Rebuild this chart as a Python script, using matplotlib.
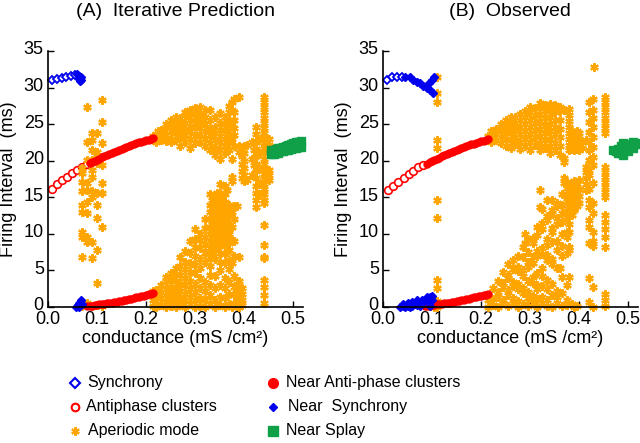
import matplotlib
matplotlib.use("Agg")
from matplotlib import pyplot as plt
from matplotlib import transforms

plt.rcParams['font.family'] = ['Liberation Sans', 'DejaVu Sans']

BLUE = '#0000ee'
RED = '#ff0000'
ORANGE = '#ffa500'
GREEN = '#10a048'

# ---------- panel A : iterative prediction ----------
syncA_x = [0.0075, 0.018, 0.028, 0.037, 0.046, 0.055]
syncA_y = [31.1, 31.2, 31.35, 31.45, 31.6, 31.7]

nearsyncA_x = [0.060, 0.063, 0.065, 0.067, 0.068, 0.066, 0.064, 0.058, 0.061, 0.064, 0.067, 0.069, 0.063]
nearsyncA_y = [31.8, 31.6, 31.4, 31.0, 31.5, 30.9, 31.2, 0.0, 0.3, 0.6, 0.9, 0.4, 0.0]

antiA_x = [0.0075, 0.018, 0.028, 0.038, 0.048, 0.059, 0.069, 0.079]
antiA_y = [16.1, 16.8, 17.35, 17.8, 18.3, 18.7, 19.2, 19.5]

nearantiA_up_x = [0.085, 0.09, 0.095, 0.10, 0.105, 0.11, 0.115, 0.12, 0.125, 0.13, 0.135, 0.14, 0.145,
                  0.15, 0.155, 0.16, 0.165, 0.17, 0.175, 0.18, 0.185, 0.19, 0.195, 0.20, 0.205, 0.21, 0.215]
nearantiA_up_y = [19.7, 19.85, 20.0, 20.15, 20.3, 20.45, 20.6, 20.75, 20.9, 21.05, 21.2, 21.35, 21.5,
                  21.6, 21.75, 21.9, 22.0, 22.15, 22.25, 22.4, 22.5, 22.6, 22.7, 22.8, 22.9, 23.0, 23.1]
nearantiA_lo_x = [0.08, 0.085, 0.09, 0.095, 0.10, 0.105, 0.11, 0.115, 0.12, 0.125, 0.13, 0.135, 0.14, 0.145,
                  0.15, 0.155, 0.16, 0.165, 0.17, 0.175, 0.18, 0.185, 0.19, 0.195, 0.20, 0.205, 0.21, 0.215]
nearantiA_lo_y = [0.1, 0.15, 0.2, 0.25, 0.3, 0.35, 0.4, 0.45, 0.5, 0.55, 0.6, 0.65, 0.7, 0.78,
                  0.85, 0.92, 1.0, 1.08, 1.15, 1.22, 1.3, 1.38, 1.46, 1.55, 1.63, 1.72, 1.8, 1.9]

splayA_x = [0.455, 0.46, 0.465, 0.47, 0.475, 0.48, 0.485, 0.49, 0.495, 0.50, 0.505, 0.51, 0.515]
splayA_lo = [20.9, 20.9, 21.1, 21.1, 21.3, 21.3, 21.5, 21.5, 21.6, 21.7, 21.8, 21.9, 21.9]
splayA_hi = [21.4, 21.5, 21.6, 21.7, 21.8, 21.9, 22.0, 22.1, 22.3, 22.4, 22.5, 22.6, 22.7]

# aperiodic points, listed column by column (x, then the y values in that column)
aperA_x = [0.070, 0.079, 0.089, 0.099, 0.110,
           0.215, 0.22, 0.225, 0.23, 0.24, 0.25, 0.26, 0.27, 0.28, 0.29, 0.30, 0.31, 0.32, 0.33, 0.335,
           0.34, 0.345, 0.35, 0.355, 0.36, 0.365, 0.37, 0.375, 0.38, 0.385, 0.39, 0.395, 0.40, 0.405,
           0.415, 0.42, 0.425, 0.43, 0.44, 0.45]
aperA_y = [
    [19.0, 18.3, 17.1, 15.8, 13.9, 13.0, 10.3, 9.6, 6.9, 0.1],
    [27.4, 22.6, 20.1, 16.9, 16.0, 14.4, 12.8, 9.6, 8.9, 0.6],
    [23.8, 22.8, 21.4, 20.1, 18.7, 17.8, 15.8, 15.1, 8.9, 6.7, 0.2],
    [23.8, 21.2, 20.5, 19.7, 15.6, 13.9, 12.2, 7.8, 3.3, 0.3],
    [28.3, 25.3, 22.4, 20.5, 19.4, 17.0, 15.6, 11.0, 0.1],
    [22.9, 23.4, 0.2, 1.0, 2.2],
    [23.0, 23.6, 22.5, 0.0, 0.8, 1.5, 2.3],
    [23.4, 24.0],
    [23.2, 24.2, 22.8, 0.3, 1.2, 2.0, 3.0],
    [23.5, 24.5, 25.0, 22.7, 0.0, 0.7, 1.6, 2.5, 3.5, 4.1],
    [23.0, 24.0, 24.8, 25.6, 22.5, 0.2, 1.0, 1.9, 2.8, 3.8, 4.6],
    [22.8, 23.8, 24.6, 25.4, 26.0, 0.0, 0.8, 1.6, 2.6, 3.6, 4.5, 5.4],
    [22.0, 23.2, 24.2, 25.0, 25.8, 0.3, 1.2, 2.2, 3.2, 4.4, 5.6, 6.8],
    [22.5, 23.5, 24.4, 25.2, 26.2, 26.6, 0.0, 0.9, 1.8, 3.0, 4.0, 5.2, 6.2, 7.6],
    [21.8, 23.0, 24.0, 24.8, 25.6, 26.4, 27.0, 0.4, 1.4, 2.5, 3.6, 4.8, 6.0, 7.4, 9.0],
    [22.4, 23.4, 24.6, 25.5, 26.5, 27.2, 0.0, 1.0, 2.0, 3.2, 4.6, 5.8, 7.0, 8.2, 9.3, 10.6],
    [22.6, 23.6, 24.5, 25.3, 26.2, 27.3, 0.2, 1.2, 2.6, 4.0, 5.4, 6.6, 8.0, 9.2, 10.0],
    [22.0, 23.0, 24.0, 25.0, 26.0, 27.0, 0.0, 1.0, 2.2, 3.4, 6.2, 7.4, 8.6, 9.6, 10.8, 12.0],
    [21.4, 22.4, 23.5, 24.4, 25.6, 27.0, 0.4, 1.6, 3.0, 4.4, 5.6, 6.8, 8.0, 9.0, 10.0, 11.0, 12.0, 13.0,
     14.0, 15.5],
    [7.2, 8.4, 9.6, 10.6, 11.6, 12.6, 13.6, 14.6],
    [20.8, 21.8, 22.8, 23.8, 24.6, 26.0, 0.0, 1.0, 2.6, 4.2, 6.6, 7.8, 9.0, 10.2, 11.2, 12.2, 13.2, 14.2, 15.2],
    [8.0, 9.2, 10.4, 11.4, 12.4, 13.4, 14.4, 15.6],
    [20.2, 21.5, 22.6, 23.4, 24.2, 25.2, 26.5, 0.3, 1.4, 3.0, 5.0, 6.2, 7.4, 8.6, 9.6, 10.6, 11.6, 12.6,
     13.6, 14.6, 15.6, 16.8],
    [9.0, 10.2, 11.2, 12.2, 13.2, 14.2, 15.2],
    [21.0, 22.0, 23.0, 24.2, 25.0, 26.0, 0.0, 1.2, 2.6, 4.0, 6.0, 7.2, 8.4, 9.4, 10.4, 11.4, 12.4, 13.4,
     14.4, 15.4, 16.5],
    [9.6, 10.6, 11.8, 12.8, 13.8, 16.0],
    [21.5, 22.6, 23.6, 24.6, 25.6, 26.6, 27.5, 0.4, 1.8, 3.4, 5.2, 6.4, 7.8, 8.8, 10.0, 11.2, 12.4, 13.6, 14.0],
    [20.3, 23.0, 25.0, 27.0, 28.0, 0.0, 6.0, 9.2, 11.0, 13.0, 17.2, 17.8],
    [22.0, 23.5, 24.5, 25.5, 26.6, 28.5, 0.6, 1.6, 2.8, 4.2, 7.0, 9.0, 12.0, 13.8],
    [0.2, 1.0, 2.0, 3.2, 13.8],
    [28.7, 22.0, 21.2, 0.0, 0.6, 1.4, 2.2, 3.6, 6.8],
    [21.6, 20.6, 19.6, 18.6, 17.6, 0.3, 1.0, 1.8, 2.6],
    [22.0, 21.0, 20.0, 19.0, 18.0, 17.2],
    [22.2, 17.4],
    [22.5, 20.2, 18.0],
    [22.4, 21.4, 20.4, 19.4],
    [24.6, 23.6, 22.6, 21.6, 20.6, 19.6, 18.6, 17.6, 16.6, 15.6, 14.6, 13.7],
    [22.8, 21.0, 19.0, 17.0, 15.5],
    [28.7, 28.0, 27.3, 26.6, 25.9, 25.2, 24.5, 23.8, 23.1, 22.4, 21.7, 21.0, 20.3, 19.6, 18.9, 18.2, 17.5,
     16.8, 16.1, 15.4, 14.6, 14.2, 11.2, 8.5, 6.9, 6.7, 3.7, 2.8, 1.6, 0.5],
    [23.0, 22.2, 18.7, 18.0, 17.3],
]

# ---------- panel B : observed ----------
syncB_x = [0.0075, 0.018, 0.028, 0.038]
syncB_y = [31.1, 31.4, 31.5, 31.5]

nearsyncB_x = [0.045, 0.055, 0.062, 0.069, 0.076, 0.082, 0.089, 0.093, 0.099, 0.103, 0.096, 0.101,
               0.035, 0.04, 0.045, 0.05, 0.055, 0.06, 0.065, 0.07, 0.075, 0.08, 0.085, 0.09, 0.095, 0.10,
               0.04, 0.05, 0.06, 0.07, 0.08, 0.09, 0.10, 0.055, 0.075, 0.095]
nearsyncB_y = [31.5, 31.4, 31.1, 30.8, 30.6, 30.2, 30.0, 30.6, 31.0, 31.4, 29.7, 29.3,
               0.0, 0.1, 0.0, 0.2, 0.3, 0.1, 0.4, 0.3, 0.6, 0.5, 0.9, 0.8, 1.3, 1.5,
               0.4, 0.6, 0.7, 0.9, 1.0, 1.4, 0.9, 0.0, 0.1, 0.2]

antiB_x = [0.011, 0.021, 0.031, 0.042, 0.052, 0.062, 0.071, 0.081]
antiB_y = [16.0, 16.5, 17.1, 17.7, 18.2, 18.6, 19.1, 19.4]

nearantiB_up_x = [0.089, 0.095, 0.10, 0.105, 0.11, 0.115, 0.12, 0.125, 0.13, 0.135, 0.14, 0.145,
                  0.15, 0.155, 0.16, 0.165, 0.17, 0.175, 0.18, 0.185, 0.19, 0.195, 0.20, 0.205, 0.21, 0.215]
nearantiB_up_y = [19.6, 19.8, 19.95, 20.1, 20.25, 20.4, 20.6, 20.75, 20.9, 21.05, 21.2, 21.3,
                  21.45, 21.6, 21.75, 21.85, 22.0, 22.1, 22.25, 22.35, 22.45, 22.55, 22.65, 22.75, 22.85, 22.95]
nearantiB_lo_x = [0.086, 0.09, 0.095, 0.10, 0.105, 0.11, 0.115, 0.12, 0.125, 0.13, 0.135, 0.14, 0.145,
                  0.15, 0.155, 0.16, 0.165, 0.17, 0.175, 0.18, 0.185, 0.19, 0.195, 0.20, 0.205, 0.21, 0.215]
nearantiB_lo_y = [0.1, 0.15, 0.2, 0.25, 0.3, 0.35, 0.4, 0.45, 0.5, 0.55, 0.6, 0.65, 0.72,
                  0.8, 0.87, 0.94, 1.0, 1.08, 1.15, 1.22, 1.3, 1.38, 1.46, 1.54, 1.62, 1.7, 1.8]

splayB_x = [0.47, 0.475, 0.48, 0.485, 0.485, 0.49, 0.49, 0.495, 0.50, 0.505, 0.51, 0.515, 0.52, 0.48,
            0.50, 0.51]
splayB_y = [21.5, 21.3, 21.6, 22.0, 21.0, 22.4, 20.8, 21.5, 22.3, 22.0, 22.6, 22.3, 22.4, 21.1,
            21.3, 21.8]

aperB_x = [0.105, 0.111,
           0.215, 0.22, 0.225, 0.23, 0.235, 0.24, 0.245, 0.25, 0.255, 0.26, 0.265, 0.27, 0.275, 0.28, 0.285,
           0.29, 0.295, 0.30, 0.305, 0.31, 0.315, 0.32, 0.325, 0.33, 0.335, 0.34, 0.345, 0.35, 0.355, 0.36,
           0.365, 0.37, 0.375, 0.38, 0.385, 0.39, 0.395, 0.40, 0.405, 0.413, 0.42, 0.428, 0.43, 0.453]
aperB_y = [
    [0.0, 0.6, 1.0],
    [31.4, 29.2, 28.0, 22.9, 21.7, 14.6, 12.1, 3.7, 2.6, 0.8, 0.3, 0.0],
    [22.9, 23.4, 0.0, 0.9, 1.7],
    [22.6, 23.4, 24.0],
    [0.3, 1.1, 2.6],
    [22.8, 23.6, 24.4],
    [0.0, 1.4, 2.1, 3.5],
    [22.4, 23.3, 24.2, 25.0],
    [0.5, 1.0, 2.7, 3.3, 4.8],
    [22.0, 23.0, 23.9, 24.8, 25.6],
    [0.1, 1.6, 2.3, 3.9, 4.4, 5.9],
    [21.8, 22.8, 23.8, 24.6, 25.4, 26.0],
    [0.6, 1.2, 2.9, 3.4, 5.2, 6.4],
    [22.3, 23.3, 24.3, 25.2, 26.0],
    [0.0, 0.8, 2.5, 3.1, 4.9, 5.5, 7.0],
    [21.6, 22.6, 23.6, 24.6, 25.5, 26.4],
    [0.4, 1.9, 2.6, 4.3, 5.0, 6.9, 8.2],
    [22.0, 23.0, 24.0, 25.0, 26.0, 26.8, 10.0, 8.7],
    [0.1, 1.2, 2.0, 3.6, 5.5, 6.1, 7.5, 9.2],
    [21.5, 22.5, 23.6, 24.6, 25.6, 26.6, 27.3],
    [0.6, 1.5, 3.3, 4.1, 6.0, 6.8, 8.7, 9.5],
    [22.2, 23.2, 24.2, 25.2, 26.2, 27.2],
    [0.0, 1.1, 2.4, 3.0, 4.7, 7.0, 7.7, 9.9, 11.0],
    [21.4, 22.4, 23.4, 24.4, 25.4, 26.4, 27.4, 27.9, 16.0, 13.7],
    [0.5, 1.3, 2.9, 4.2, 5.4, 7.3, 8.0, 10.7, 11.5, 13.4],
    [21.8, 22.8, 23.8, 24.8, 25.8, 26.8, 27.6],
    [0.2, 0.9, 2.5, 3.7, 6.4, 7.1, 8.5, 9.3, 11.9, 12.4, 14.6],
    [21.0, 22.0, 23.0, 24.0, 25.0, 26.0, 27.0, 27.8],
    [0.0, 1.7, 3.2, 5.9, 6.6, 8.9, 10.2, 10.8, 12.7, 13.3, 14.6],
    [21.4, 22.4, 23.6, 24.6, 25.6, 26.6, 27.6],
    [0.6, 1.4, 2.2, 5.3, 7.8, 9.0, 11.3, 12.1, 13.8, 14.2],
    [20.8, 22.0, 23.2, 24.4, 25.6, 26.8, 27.4, 5.3],
    [0.1, 1.9, 4.1, 7.0, 8.4, 10.0, 11.6, 12.9, 14.0, 15.4],
    [20.4, 19.8, 17.6, 17.0, 27.0],
    [0.3, 0.9, 3.0, 7.4, 9.6, 10.3, 12.3, 13.1, 14.5, 15.2, 16.3, 17.1],
    [21.4, 22.2, 23.0, 23.8, 24.6, 25.4, 26.2, 27.1, 7.8, 8.2, 10.2, 11.4, 12.6, 13.8, 14.8, 15.8, 16.8, 4.1],
    [21.6, 22.4, 23.2, 24.0, 0.4, 12.6, 13.8, 14.8, 15.8, 16.8],
    [21.4, 22.2, 23.0, 23.8, 0.0, 13.2, 14.2, 15.2, 16.2, 17.2],
    [21.6, 22.4, 23.2, 24.0, 0.2, 13.8, 14.8, 15.8, 16.8],
    [21.4, 22.2, 23.0, 23.8, 14.2, 15.2, 16.2, 17.4],
    [21.8, 22.6],
    [22.8, 19.2, 18.4, 17.6, 16.8, 16.0],
    [28.0, 26.6, 25.3, 23.9, 22.6, 21.4, 20.1, 18.7, 18.0, 16.2, 14.6, 13.7, 11.9, 11.0, 8.7, 4.0, 0.7],
    [28.4, 27.0, 25.9, 24.6, 23.3, 21.9, 20.5, 19.4, 16.9, 14.2, 12.8, 10.3, 9.0, 8.3, 2.8, 0.0],
    [32.8],
    [28.7, 28.0, 27.3, 26.6, 25.9, 25.2, 24.5, 23.8, 19.2, 18.5, 17.8, 17.1, 16.4, 15.7, 15.0, 12.6, 11.6,
     10.6, 9.6, 8.2, 1.8, 1.0, 0.2],
]

xticks = [0.0, 0.1, 0.2, 0.3, 0.4, 0.5]
yticks = [0, 5, 10, 15, 20, 25, 30, 35]

STAR = (6, 2, 0)


def flatten(xs, ys):
    fx, fy = [], []
    for x, col in zip(xs, ys):
        for y in col:
            fx.append(x)
            fy.append(y)
    return fx, fy


fig = plt.figure(figsize=(6.4, 4.43), dpi=100)
axA = fig.add_axes([48 / 640, 1 - 307 / 443, 255 / 640, 256 / 443])
axB = fig.add_axes([383 / 640, 1 - 307 / 443, 255 / 640, 256 / 443])

panels = [
    (axA, syncA_x, syncA_y, nearsyncA_x, nearsyncA_y, antiA_x, antiA_y,
     nearantiA_up_x + nearantiA_lo_x, nearantiA_up_y + nearantiA_lo_y,
     splayA_x + splayA_x, splayA_lo + splayA_hi, aperA_x, aperA_y),
    (axB, syncB_x, syncB_y, nearsyncB_x, nearsyncB_y, antiB_x, antiB_y,
     nearantiB_up_x + nearantiB_lo_x, nearantiB_up_y + nearantiB_lo_y,
     splayB_x, splayB_y, aperB_x, aperB_y),
]

# nudge y tick labels up a little, as in the reference
lift = transforms.ScaledTranslation(0, 3 / 100, fig.dpi_scale_trans)

for (ax, sx, sy, nsx, nsy, ax_, ay_, nax, nay, spx, spy, apx, apy) in panels:
    kw = dict(linestyle='none', clip_on=False)
    ax.plot(sx, sy, marker='D', ms=4.5, mfc='white', mec=BLUE, mew=1.3, **kw)
    ax.plot(ax_, ay_, marker='o', ms=5.5, mfc='white', mec=RED, mew=1.2, **kw)
    fx, fy = flatten(apx, apy)
    ax.plot(fx, fy, marker=STAR, ms=6, color=ORANGE, mew=1.6, **kw)
    ax.plot(nax, nay, marker='o', ms=5, color=RED, mec=RED, **kw)
    ax.plot(nsx, nsy, marker='D', ms=4.5, color=BLUE, mec=BLUE, **kw)
    ax.plot(spx, spy, marker='s', ms=5.5, color=GREEN, mec=GREEN, **kw)

    ax.set_xlim(0, 0.52)
    ax.set_ylim(0, 35)
    ax.set_xticks(xticks)
    ax.set_xticklabels(['%.1f' % t for t in xticks])
    ax.set_yticks(yticks)
    ax.tick_params(direction='in', length=4, width=1, labelsize=13, pad=3)
    for lbl in ax.get_yticklabels():
        lbl.set_transform(lbl.get_transform() + lift)
    for s in ['top', 'right']:
        ax.spines[s].set_visible(False)
    for s in ['left', 'bottom']:
        ax.spines[s].set_linewidth(1.2)
    ax.set_ylabel('Firing Interval  (ms)', fontsize=13)
    ax.yaxis.set_label_coords(-0.12, 0.5)
    ax.set_xlabel('conductance (mS /cm\u00b2)', fontsize=13)
    ax.xaxis.set_label_coords(0.5, -0.09)
    ax.patch.set_alpha(0)

fig.text(175 / 640, 1 - 11 / 443, '(A)  Iterative Prediction', fontsize=14, ha='center', va='center')
fig.text(510 / 640, 1 - 11 / 443, '(B)  Observed', fontsize=14, ha='center', va='center')

# legend drawn on a pixel-coordinate overlay
leg = fig.add_axes([0, 0, 1, 1])
leg.set_xlim(0, 640)
leg.set_ylim(443, 0)
leg.axis('off')
leg_labels = ['Synchrony', 'Antiphase clusters', 'Aperiodic mode',
              'Near Anti-phase clusters', 'Near  Synchrony', 'Near Splay']
leg_styles = [
    dict(marker='D', ms=5, mfc='white', mec=BLUE, mew=1.5),
    dict(marker='o', ms=5.5, mfc='white', mec=RED, mew=1.5),
    dict(marker=STAR, ms=6, color=ORANGE, mew=1.6),
    dict(marker='o', ms=7, color=RED),
    dict(marker='D', ms=4.5, color=BLUE),
    dict(marker='s', ms=6.5, color=GREEN),
]
leg_mx = [75, 75, 75, 273, 273, 273]
leg_tx = [87, 86, 88, 286, 288, 286]
leg_y = [383, 407, 431, 383, 407, 431]
for lab, st, mx, tx, y in zip(leg_labels, leg_styles, leg_mx, leg_tx, leg_y):
    leg.plot([mx], [y], linestyle='none', **st)
    leg.text(tx, y, lab, fontsize=11.5, ha='left', va='center')

fig.savefig('out.png', dpi=100)
